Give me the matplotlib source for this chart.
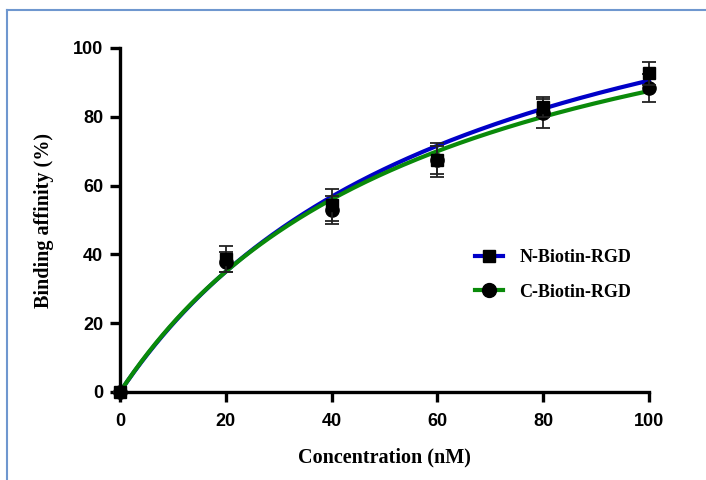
import numpy as np
import matplotlib.pyplot as plt
from matplotlib.lines import Line2D

# Measured binding data (mean +/- SD)
conc = [0, 20, 40, 60, 80, 100]
n_mean = [0, 38.6, 54.3, 67.4, 82.8, 92.6]
n_err = [0, 3.7, 4.7, 5.0, 3.0, 3.3]
c_mean = [0, 37.8, 52.9, 67.5, 81.0, 88.4]
c_err = [0, 3.0, 4.0, 4.0, 4.2, 4.1]

# One-site binding fits: y = Bmax*x/(Kd+x)
n_bmax, n_kd = 150.0, 65.7
c_bmax, c_kd = 140.0, 60.0

def one_site(x, bmax, kd):
    return bmax * x / (kd + x)

fig = plt.figure(figsize=(7.06, 4.8), dpi=100)
ax = fig.add_axes([120/706, 1-392/480, (649-120)/706, (392-48)/480])

xs = np.linspace(0, 100, 300)
ax.plot(xs, one_site(xs, n_bmax, n_kd), color='#0000c8', lw=3, zorder=2, clip_on=False)
ax.plot(xs, one_site(xs, c_bmax, c_kd), color='#0a8a0a', lw=3, zorder=2.1, clip_on=False)

ax.errorbar(conc, c_mean, yerr=c_err, fmt='o', color='black', ms=9.5, ecolor='#222222',
            elinewidth=1.3, capsize=5, capthick=1.3, zorder=3, clip_on=False)
ax.errorbar(conc, n_mean, yerr=n_err, fmt='s', color='black', ms=8.5, ecolor='#222222',
            elinewidth=1.3, capsize=5, capthick=1.3, zorder=3.1, clip_on=False)

ax.set_xlim(0, 100)
ax.set_ylim(0, 100)
ax.set_xticks(conc)
ax.set_yticks([0, 20, 40, 60, 80, 100])
for s in ['top', 'right']:
    ax.spines[s].set_visible(False)
for s in ['left', 'bottom']:
    ax.spines[s].set_linewidth(2.4)
ax.tick_params(width=2.4, length=7, direction='out', pad=5)
ax.tick_params(axis='x', pad=8)
for lab in ax.get_xticklabels() + ax.get_yticklabels():
    lab.set_fontfamily('Liberation Sans')
    lab.set_fontweight('bold')
    lab.set_fontsize(13)

ax.set_xlabel('Concentration (nM)', family='Liberation Serif', fontweight='bold',
              fontsize=14.5, labelpad=13)
ax.set_ylabel('Binding affinity (%)', family='Liberation Serif', fontweight='bold',
              fontsize=14.5, labelpad=14)

handles = [
    Line2D([], [], color='#0000c8', lw=3, marker='s', ms=9, mfc='black', mec='black'),
    Line2D([], [], color='#0a8a0a', lw=3, marker='o', ms=10, mfc='black', mec='black'),
]
ax.legend(handles, ['N-Biotin-RGD', 'C-Biotin-RGD'], loc='center left',
          bbox_to_anchor=(0.671, 0.34), frameon=False, borderpad=0, borderaxespad=0,
          handlelength=1.55, labelspacing=0.95, handletextpad=0.9,
          prop={'family': 'Liberation Serif', 'weight': 'bold', 'size': 13})

# light blue page frame
fig.add_artist(Line2D([7/706, 1], [1-10/480, 1-10/480], color='#6f97cf', lw=1.5))
fig.add_artist(Line2D([7/706, 7/706], [0, 1-10/480], color='#6f97cf', lw=1.5))

fig.savefig('out.png', dpi=100)
